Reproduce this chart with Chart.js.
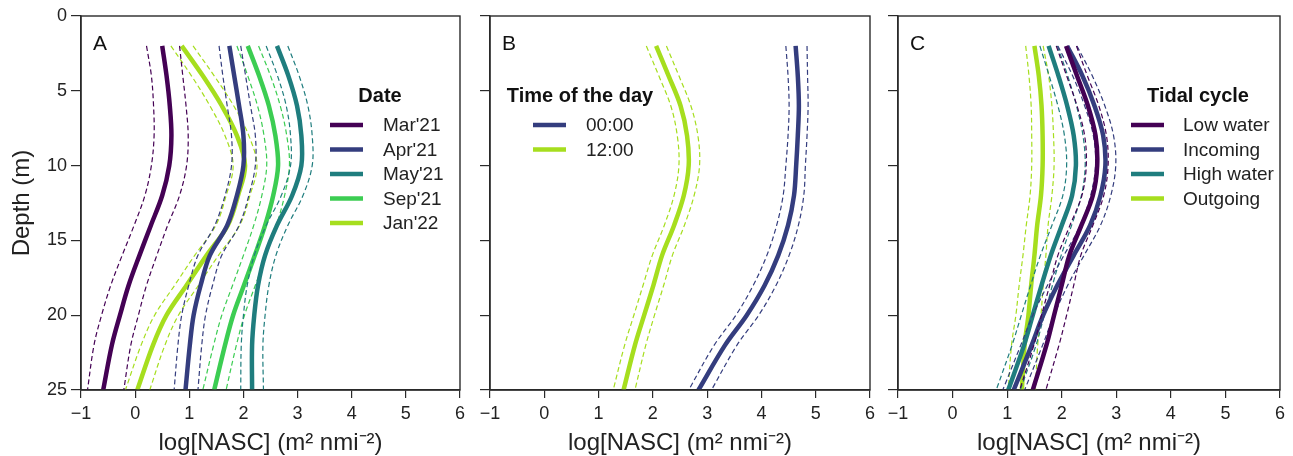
<!doctype html>
<html>
<head>
<title>NASC depth profiles</title>
<script src="https://cdn.jsdelivr.net/npm/chart.js@4.4.1/dist/chart.umd.min.js"></script>
<style>
  body { margin: 0; background: #fff; }
  #wrap { position: relative; width: 1293px; height: 456px; }
  canvas { position: absolute; top: 0; }
</style>
</head>
<body>
<div id="wrap">
  <canvas id="panelA" width="470" height="456" style="left:0px"></canvas>
  <canvas id="panelB" width="410" height="456" style="left:470px"></canvas>
  <canvas id="panelC" width="413" height="456" style="left:880px"></canvas>
</div>
<script>
// depth of each profile sample (m)
var depths = [2, 4, 6, 8, 10, 12, 14, 16, 18, 20, 22, 25];
var xTicks = [-1, 0, 1, 2, 3, 4, 5, 6];
var yTicks = [0, 5, 10, 15, 20, 25];

// panel A - date
var dateLabels = ["Mar'21", "Apr'21", "May'21", "Sep'21", "Jan'22"];
var marMean = [0.50, 0.58, 0.64, 0.67, 0.63, 0.50, 0.29, 0.08, -0.12, -0.28, -0.43, -0.59];
var marLo   = [0.21, 0.30, 0.34, 0.35, 0.30, 0.18, -0.02, -0.24, -0.45, -0.62, -0.76, -0.88];
var marHi   = [0.82, 0.88, 0.94, 0.98, 0.95, 0.82, 0.60, 0.40, 0.21, 0.06, -0.08, -0.21];
var aprMean = [1.74, 1.83, 1.92, 2.00, 2.00, 1.88, 1.70, 1.38, 1.21, 1.08, 1.01, 0.93];
var aprLo   = [1.55, 1.62, 1.70, 1.78, 1.78, 1.66, 1.47, 1.16, 0.99, 0.86, 0.79, 0.72];
var aprHi   = [1.95, 2.04, 2.13, 2.22, 2.22, 2.10, 1.92, 1.60, 1.43, 1.30, 1.23, 1.16];
var mayMean = [2.62, 2.83, 2.99, 3.07, 3.07, 2.90, 2.62, 2.40, 2.27, 2.20, 2.16, 2.16];
var mayLo   = [2.42, 2.63, 2.79, 2.87, 2.87, 2.70, 2.42, 2.20, 2.07, 2.00, 1.96, 1.95];
var mayHi   = [2.82, 3.03, 3.19, 3.27, 3.27, 3.10, 2.82, 2.60, 2.47, 2.40, 2.36, 2.37];
var sepMean = [2.08, 2.29, 2.47, 2.59, 2.64, 2.55, 2.40, 2.21, 2.01, 1.81, 1.66, 1.46];
var sepLo   = [1.88, 2.08, 2.26, 2.38, 2.43, 2.34, 2.19, 2.00, 1.80, 1.60, 1.45, 1.25];
var sepHi   = [2.28, 2.50, 2.68, 2.80, 2.85, 2.76, 2.61, 2.42, 2.22, 2.02, 1.87, 1.68];
var janMean = [0.86, 1.25, 1.60, 1.88, 2.03, 1.90, 1.71, 1.32, 0.95, 0.58, 0.33, 0.04];
var janLo   = [0.66, 1.04, 1.38, 1.66, 1.81, 1.68, 1.49, 1.10, 0.73, 0.36, 0.11, -0.18];
var janHi   = [1.07, 1.46, 1.82, 2.10, 2.25, 2.12, 1.93, 1.54, 1.17, 0.80, 0.55, 0.27];

// panel B - time of the day
var timeLabels = ["00:00", "12:00"];
var midMean  = [4.63, 4.67, 4.69, 4.67, 4.64, 4.60, 4.49, 4.31, 4.06, 3.73, 3.33, 2.84];
var midLo    = [4.45, 4.49, 4.51, 4.49, 4.45, 4.40, 4.28, 4.10, 3.85, 3.53, 3.13, 2.66];
var midHi    = [4.84, 4.85, 4.86, 4.84, 4.81, 4.78, 4.68, 4.51, 4.27, 3.95, 3.55, 3.08];
var noonMean = [2.06, 2.29, 2.51, 2.63, 2.66, 2.57, 2.39, 2.17, 2.01, 1.84, 1.67, 1.46];
var noonLo   = [1.88, 2.11, 2.33, 2.45, 2.48, 2.39, 2.21, 1.99, 1.82, 1.65, 1.48, 1.27];
var noonHi   = [2.25, 2.48, 2.70, 2.83, 2.86, 2.76, 2.58, 2.36, 2.20, 2.03, 1.87, 1.67];

// panel C - tidal cycle
var tideLabels = ["Low water", "Incoming", "High water", "Outgoing"];
var lowMean  = [2.08, 2.28, 2.48, 2.62, 2.65, 2.57, 2.36, 2.14, 2.00, 1.86, 1.72, 1.47];
var lowLo    = [1.90, 2.09, 2.28, 2.42, 2.45, 2.37, 2.15, 1.93, 1.78, 1.63, 1.49, 1.23];
var lowHi    = [2.27, 2.47, 2.68, 2.82, 2.85, 2.77, 2.57, 2.35, 2.22, 2.09, 1.95, 1.71];
var incMean  = [2.10, 2.38, 2.60, 2.76, 2.80, 2.71, 2.52, 2.22, 1.92, 1.66, 1.45, 1.12];
var incLo    = [1.93, 2.20, 2.42, 2.58, 2.62, 2.53, 2.34, 2.04, 1.74, 1.47, 1.25, 0.92];
var incHi    = [2.28, 2.56, 2.79, 2.95, 2.99, 2.90, 2.71, 2.41, 2.11, 1.86, 1.65, 1.32];
var highMean = [1.76, 1.94, 2.10, 2.22, 2.26, 2.19, 2.00, 1.80, 1.63, 1.47, 1.31, 1.02];
var highLo   = [1.60, 1.77, 1.93, 2.05, 2.09, 2.02, 1.82, 1.61, 1.43, 1.26, 1.09, 0.80];
var highHi   = [1.92, 2.11, 2.27, 2.39, 2.43, 2.36, 2.18, 1.99, 1.83, 1.68, 1.53, 1.24];
var outMean  = [1.50, 1.58, 1.63, 1.65, 1.65, 1.62, 1.55, 1.50, 1.44, 1.39, 1.32, 1.27];
var outLo    = [1.34, 1.40, 1.44, 1.45, 1.45, 1.42, 1.35, 1.29, 1.22, 1.16, 1.08, 1.02];
var outHi    = [1.66, 1.76, 1.82, 1.85, 1.86, 1.82, 1.75, 1.71, 1.66, 1.62, 1.56, 1.52];

var cPurple = '#440154', cNavy = '#343d7e', cTeal = '#1f7d7e', cGreen = '#3ccd52', cLime = '#a6de1e';
var FONT = '"Liberation Sans", Arial, sans-serif';

Chart.defaults.font.family = FONT;
Chart.defaults.color = '#222';

function pts(vals) {
    return depths.map(function (d, i) { return { x: vals[i], y: d }; });
}

// one series = thick mean line + two thin dashed bounds
function series(label, color, mean, lo, hi) {
    var dash = { borderColor: color, borderWidth: 1.2, borderDash: [5, 3], pointRadius: 0, showLine: true, tension: 0.35, fill: false };
    return [
        Object.assign({ label: label + ' lo', data: pts(lo) }, dash),
        Object.assign({ label: label + ' hi', data: pts(hi) }, dash),
        { label: label, data: pts(mean), borderColor: color, backgroundColor: color, borderWidth: 4.5,
          pointRadius: 0, showLine: true, tension: 0.35, fill: false }
    ];
}

var panelDecor = {
    id: 'panelDecor',
    afterDraw: function (chart, args, o) {
        var ctx = chart.ctx, a = chart.chartArea;
        ctx.save();
        ctx.strokeStyle = '#2a2a2a';
        ctx.lineWidth = 1.4;
        ctx.strokeRect(a.left, a.top, a.right - a.left, a.bottom - a.top);

        ctx.fillStyle = '#111';
        ctx.textBaseline = 'middle';
        ctx.textAlign = 'left';
        ctx.font = '21px ' + FONT;
        ctx.fillText(o.letter, a.left + 12, a.top + 28);

        ctx.textAlign = 'center';
        ctx.font = 'bold 20px ' + FONT;
        ctx.fillText(o.title, a.left + o.titleX, o.titleY);

        ctx.textAlign = 'left';
        ctx.font = '19px ' + FONT;
        var items = chart.data.datasets.filter(function (d) { return !d.borderDash; });
        items.forEach(function (d, i) {
            var y = o.itemY + i * o.step;
            ctx.strokeStyle = d.borderColor;
            ctx.lineWidth = 4.5;
            ctx.beginPath();
            ctx.moveTo(a.left + o.lineX, y);
            ctx.lineTo(a.left + o.lineX + 33, y);
            ctx.stroke();
            ctx.fillStyle = '#222';
            ctx.fillText(d.label, a.left + o.textX, y + 1);
        });
        ctx.restore();
    }
};

function makePanel(id, datasets, showY, yWidth, rightPad, decor) {
    var ctx = document.getElementById(id).getContext('2d');
    return new Chart(ctx, {
        type: 'scatter',
        data: { datasets: datasets },
        plugins: [panelDecor],
        options: {
            responsive: false,
            animation: false,
            devicePixelRatio: 1,
            layout: { padding: { top: 16, right: rightPad, left: 0, bottom: 0 } },
            plugins: {
                legend: { display: false },
                tooltip: { enabled: false },
                panelDecor: decor
            },
            scales: {
                x: {
                    type: 'linear', min: -1, max: 6,
                    afterBuildTicks: function (s) { s.ticks = xTicks.map(function (v) { return { value: v }; }); },
                    afterFit: function (s) { s.height = 66; },
                    grid: { drawOnChartArea: false, drawTicks: true, tickLength: 8, color: '#2a2a2a', lineWidth: 1.2 },
                    border: { display: true, color: '#2a2a2a', width: 1.4 },
                    ticks: {
                        padding: 5, maxRotation: 0, color: '#222', font: { size: 18 },
                        callback: function (v) { return String(v).replace('-', '\u2212'); }
                    },
                    title: {
                        display: true, text: 'log[NASC] (m\u00b2 nmi\u207b\u00b2)',
                        font: { size: 24 }, color: '#222', padding: { top: 0, bottom: -2 }
                    }
                },
                y: {
                    type: 'linear', min: 0, max: 25, reverse: true,
                    afterBuildTicks: function (s) { s.ticks = yTicks.map(function (v) { return { value: v }; }); },
                    afterFit: function (s) { s.width = yWidth; },
                    grid: { drawOnChartArea: false, drawTicks: true, tickLength: 10, color: '#2a2a2a', lineWidth: 1.2 },
                    border: { display: true, color: '#2a2a2a', width: 1.4 },
                    ticks: {
                        padding: 4, color: '#222', font: { size: 18 },
                        callback: function (v) { return showY ? String(v) : ''; }
                    },
                    title: {
                        display: showY, text: 'Depth (m)',
                        font: { size: 24 }, color: '#222', padding: 8
                    }
                }
            }
        }
    });
}

makePanel('panelA', [].concat(
    series(dateLabels[0], cPurple, marMean, marLo, marHi),
    series(dateLabels[1], cNavy, aprMean, aprLo, aprHi),
    series(dateLabels[2], cTeal, mayMean, mayLo, mayHi),
    series(dateLabels[3], cGreen, sepMean, sepLo, sepHi),
    series(dateLabels[4], cLime, janMean, janLo, janHi)
), true, 81, 8, { letter: 'A', title: 'Date', titleX: 299, titleY: 96, lineX: 249, textX: 302, itemY: 125, step: 24.5 });

makePanel('panelB', [].concat(
    series(timeLabels[0], cNavy, midMean, midLo, midHi),
    series(timeLabels[1], cLime, noonMean, noonLo, noonHi)
), false, 20, 8, { letter: 'B', title: 'Time of the day', titleX: 90, titleY: 96, lineX: 43, textX: 96, itemY: 125, step: 24.5 });

makePanel('panelC', [].concat(
    series(tideLabels[0], cPurple, lowMean, lowLo, lowHi),
    series(tideLabels[1], cNavy, incMean, incLo, incHi),
    series(tideLabels[2], cTeal, highMean, highLo, highHi),
    series(tideLabels[3], cLime, outMean, outLo, outHi)
), false, 18, 13, { letter: 'C', title: 'Tidal cycle', titleX: 300, titleY: 96, lineX: 233, textX: 285, itemY: 125, step: 24.5 });
</script>
</body>
</html>
